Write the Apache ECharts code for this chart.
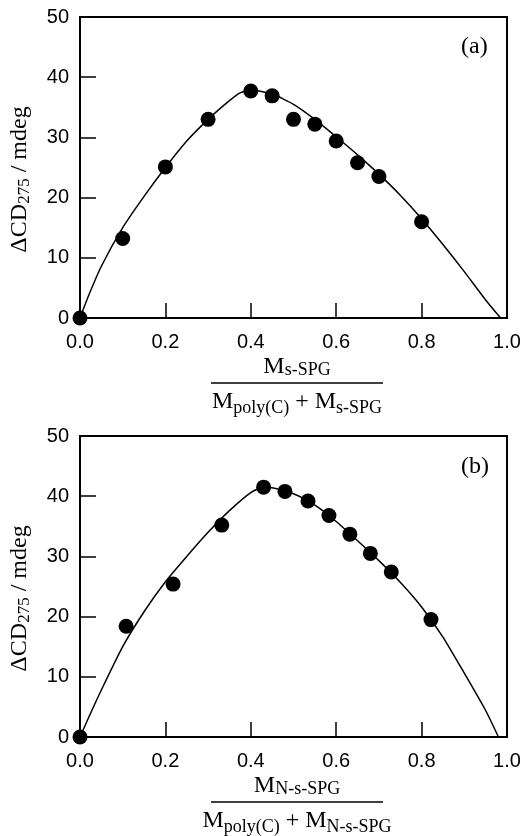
<!DOCTYPE html>
<html>
<head>
<meta charset="utf-8">
<script src="https://cdn.jsdelivr.net/npm/echarts@6/dist/echarts.min.js"></script>
<style>
  html, body { margin: 0; padding: 0; background: #fff; }
  #chart { width: 530px; height: 836px; }
</style>
</head>
<body>
<div id="chart"></div>
<script>
// panel (a): s-SPG
const aPointX = [0, 0.1, 0.2, 0.3, 0.4, 0.45, 0.5, 0.55, 0.6, 0.65, 0.7, 0.8]
const aPointY = [0, 13.2, 25.1, 33.0, 37.7, 36.9, 33.0, 32.2, 29.4, 25.8, 23.5, 16.0]
const aCurveX = [0, 0.02, 0.05, 0.1, 0.15, 0.2, 0.25, 0.3, 0.35, 0.375, 0.4, 0.45, 0.5, 0.55, 0.6, 0.65, 0.7, 0.75, 0.8, 0.85, 0.9, 0.95, 0.985]
const aCurveY = [0, 3.7, 8.6, 15.0, 20.2, 25.0, 29.4, 33.0, 36.1, 37.4, 37.9, 37.2, 35.5, 33.0, 30.1, 27.1, 23.9, 20.4, 16.5, 12.2, 7.7, 3.0, 0]

// panel (b): N-s-SPG
const bPointX = [0, 0.108, 0.218, 0.332, 0.43, 0.48, 0.534, 0.583, 0.632, 0.68, 0.729, 0.822]
const bPointY = [0, 18.4, 25.4, 35.2, 41.5, 40.8, 39.2, 36.8, 33.7, 30.5, 27.4, 19.5]
const bCurveX = [0, 0.02, 0.05, 0.1, 0.15, 0.2, 0.25, 0.3, 0.35, 0.4, 0.43, 0.45, 0.5, 0.55, 0.6, 0.65, 0.7, 0.75, 0.8, 0.85, 0.9, 0.95, 0.98]
const bCurveY = [0, 3.2, 7.8, 15.0, 20.8, 25.8, 30.0, 34.0, 37.6, 40.6, 41.5, 41.4, 40.4, 38.5, 35.8, 32.6, 29.3, 25.7, 21.6, 16.6, 10.6, 4.4, 0]

const xTicks = [0, 0.2, 0.4, 0.6, 0.8, 1.0]
const yTicks = [0, 10, 20, 30, 40, 50]

const SANS = 'Liberation Sans'
const SERIF = 'Liberation Serif'

const zip = (xs, ys) => xs.map((x, i) => [x, ys[i]])

function xAxisFor (gridIndex, sub) {
  return {
    gridIndex,
    type: 'value',
    min: xTicks[0],
    max: xTicks[xTicks.length - 1],
    interval: 0.2,
    axisLine: { show: false },
    axisTick: { inside: true, length: 15, lineStyle: { color: '#000', width: 1.5 } },
    axisLabel: {
      color: '#000',
      fontFamily: SANS,
      fontSize: 20,
      margin: 14,
      formatter: v => v.toFixed(1)
    },
    splitLine: { show: false },
    // fraction: numerator, rule, denominator
    name: '{m|M}{s|' + sub + '}\n{bar|}\n{dm|M}{ds|poly(C)}{dm| + M}{ds|' + sub + '}',
    nameLocation: 'middle',
    nameGap: 37,
    nameTextStyle: {
      align: 'center',
      padding: [0, 0, 0, 7],
      rich: {
        m: { fontFamily: SERIF, fontSize: 24, lineHeight: 24, color: '#000' },
        s: { fontFamily: SERIF, fontSize: 18, lineHeight: 14, verticalAlign: 'bottom', color: '#000' },
        bar: { width: 172, height: 1.3, lineHeight: 8, backgroundColor: '#000' },
        dm: { fontFamily: SERIF, fontSize: 24, lineHeight: 30, color: '#000' },
        ds: { fontFamily: SERIF, fontSize: 18, lineHeight: 22, verticalAlign: 'bottom', color: '#000' }
      }
    }
  }
}

function yAxisFor (gridIndex) {
  return {
    gridIndex,
    type: 'value',
    min: yTicks[0],
    max: yTicks[yTicks.length - 1],
    interval: 10,
    axisLine: { show: false },
    axisTick: { inside: true, length: 16, lineStyle: { color: '#000', width: 1.5 } },
    axisLabel: { color: '#000', fontFamily: SANS, fontSize: 20, margin: 11 },
    splitLine: { show: false },
    name: '{d|ΔCD}{s|275}{d| / mdeg}',
    nameLocation: 'middle',
    nameRotate: 90,
    nameGap: 47,
    nameTextStyle: {
      padding: [0, 24, 0, 0],
      rich: {
        d: { fontFamily: SERIF, fontSize: 24, lineHeight: 26, color: '#000' },
        s: { fontFamily: SERIF, fontSize: 17, lineHeight: 14, verticalAlign: 'bottom', color: '#000' }
      }
    }
  }
}

function seriesFor (idx, px, py, cx, cy) {
  return [
    {
      type: 'line',
      xAxisIndex: idx,
      yAxisIndex: idx,
      data: zip(cx, cy),
      smooth: 0.2,
      showSymbol: false,
      lineStyle: { color: '#000', width: 1.5 },
      z: 2
    },
    {
      type: 'scatter',
      xAxisIndex: idx,
      yAxisIndex: idx,
      data: zip(px, py),
      symbol: 'circle',
      symbolSize: 15,
      clip: false,
      itemStyle: { color: '#000', opacity: 1 },
      z: 3
    }
  ]
}

const chart = echarts.init(document.getElementById('chart'))
chart.setOption({
  animation: false,
  backgroundColor: '#fff',
  title: [
    { text: '(a)', left: 461, top: 35, padding: 0, textStyle: { fontFamily: SERIF, fontSize: 24, fontWeight: 'normal', color: '#000' } },
    { text: '(b)', left: 461, top: 455, padding: 0, textStyle: { fontFamily: SERIF, fontSize: 24, fontWeight: 'normal', color: '#000' } }
  ],
  grid: [
    { left: 80, right: 23, top: 17, height: 301, outerBoundsMode: 'none', show: true, borderColor: '#000', borderWidth: 2 },
    { left: 80, right: 23, top: 436, height: 301, outerBoundsMode: 'none', show: true, borderColor: '#000', borderWidth: 2 }
  ],
  xAxis: [xAxisFor(0, 's-SPG'), xAxisFor(1, 'N-s-SPG')],
  yAxis: [yAxisFor(0), yAxisFor(1)],
  series: [
    ...seriesFor(0, aPointX, aPointY, aCurveX, aCurveY),
    ...seriesFor(1, bPointX, bPointY, bCurveX, bCurveY)
  ]
})
</script>
</body>
</html>
